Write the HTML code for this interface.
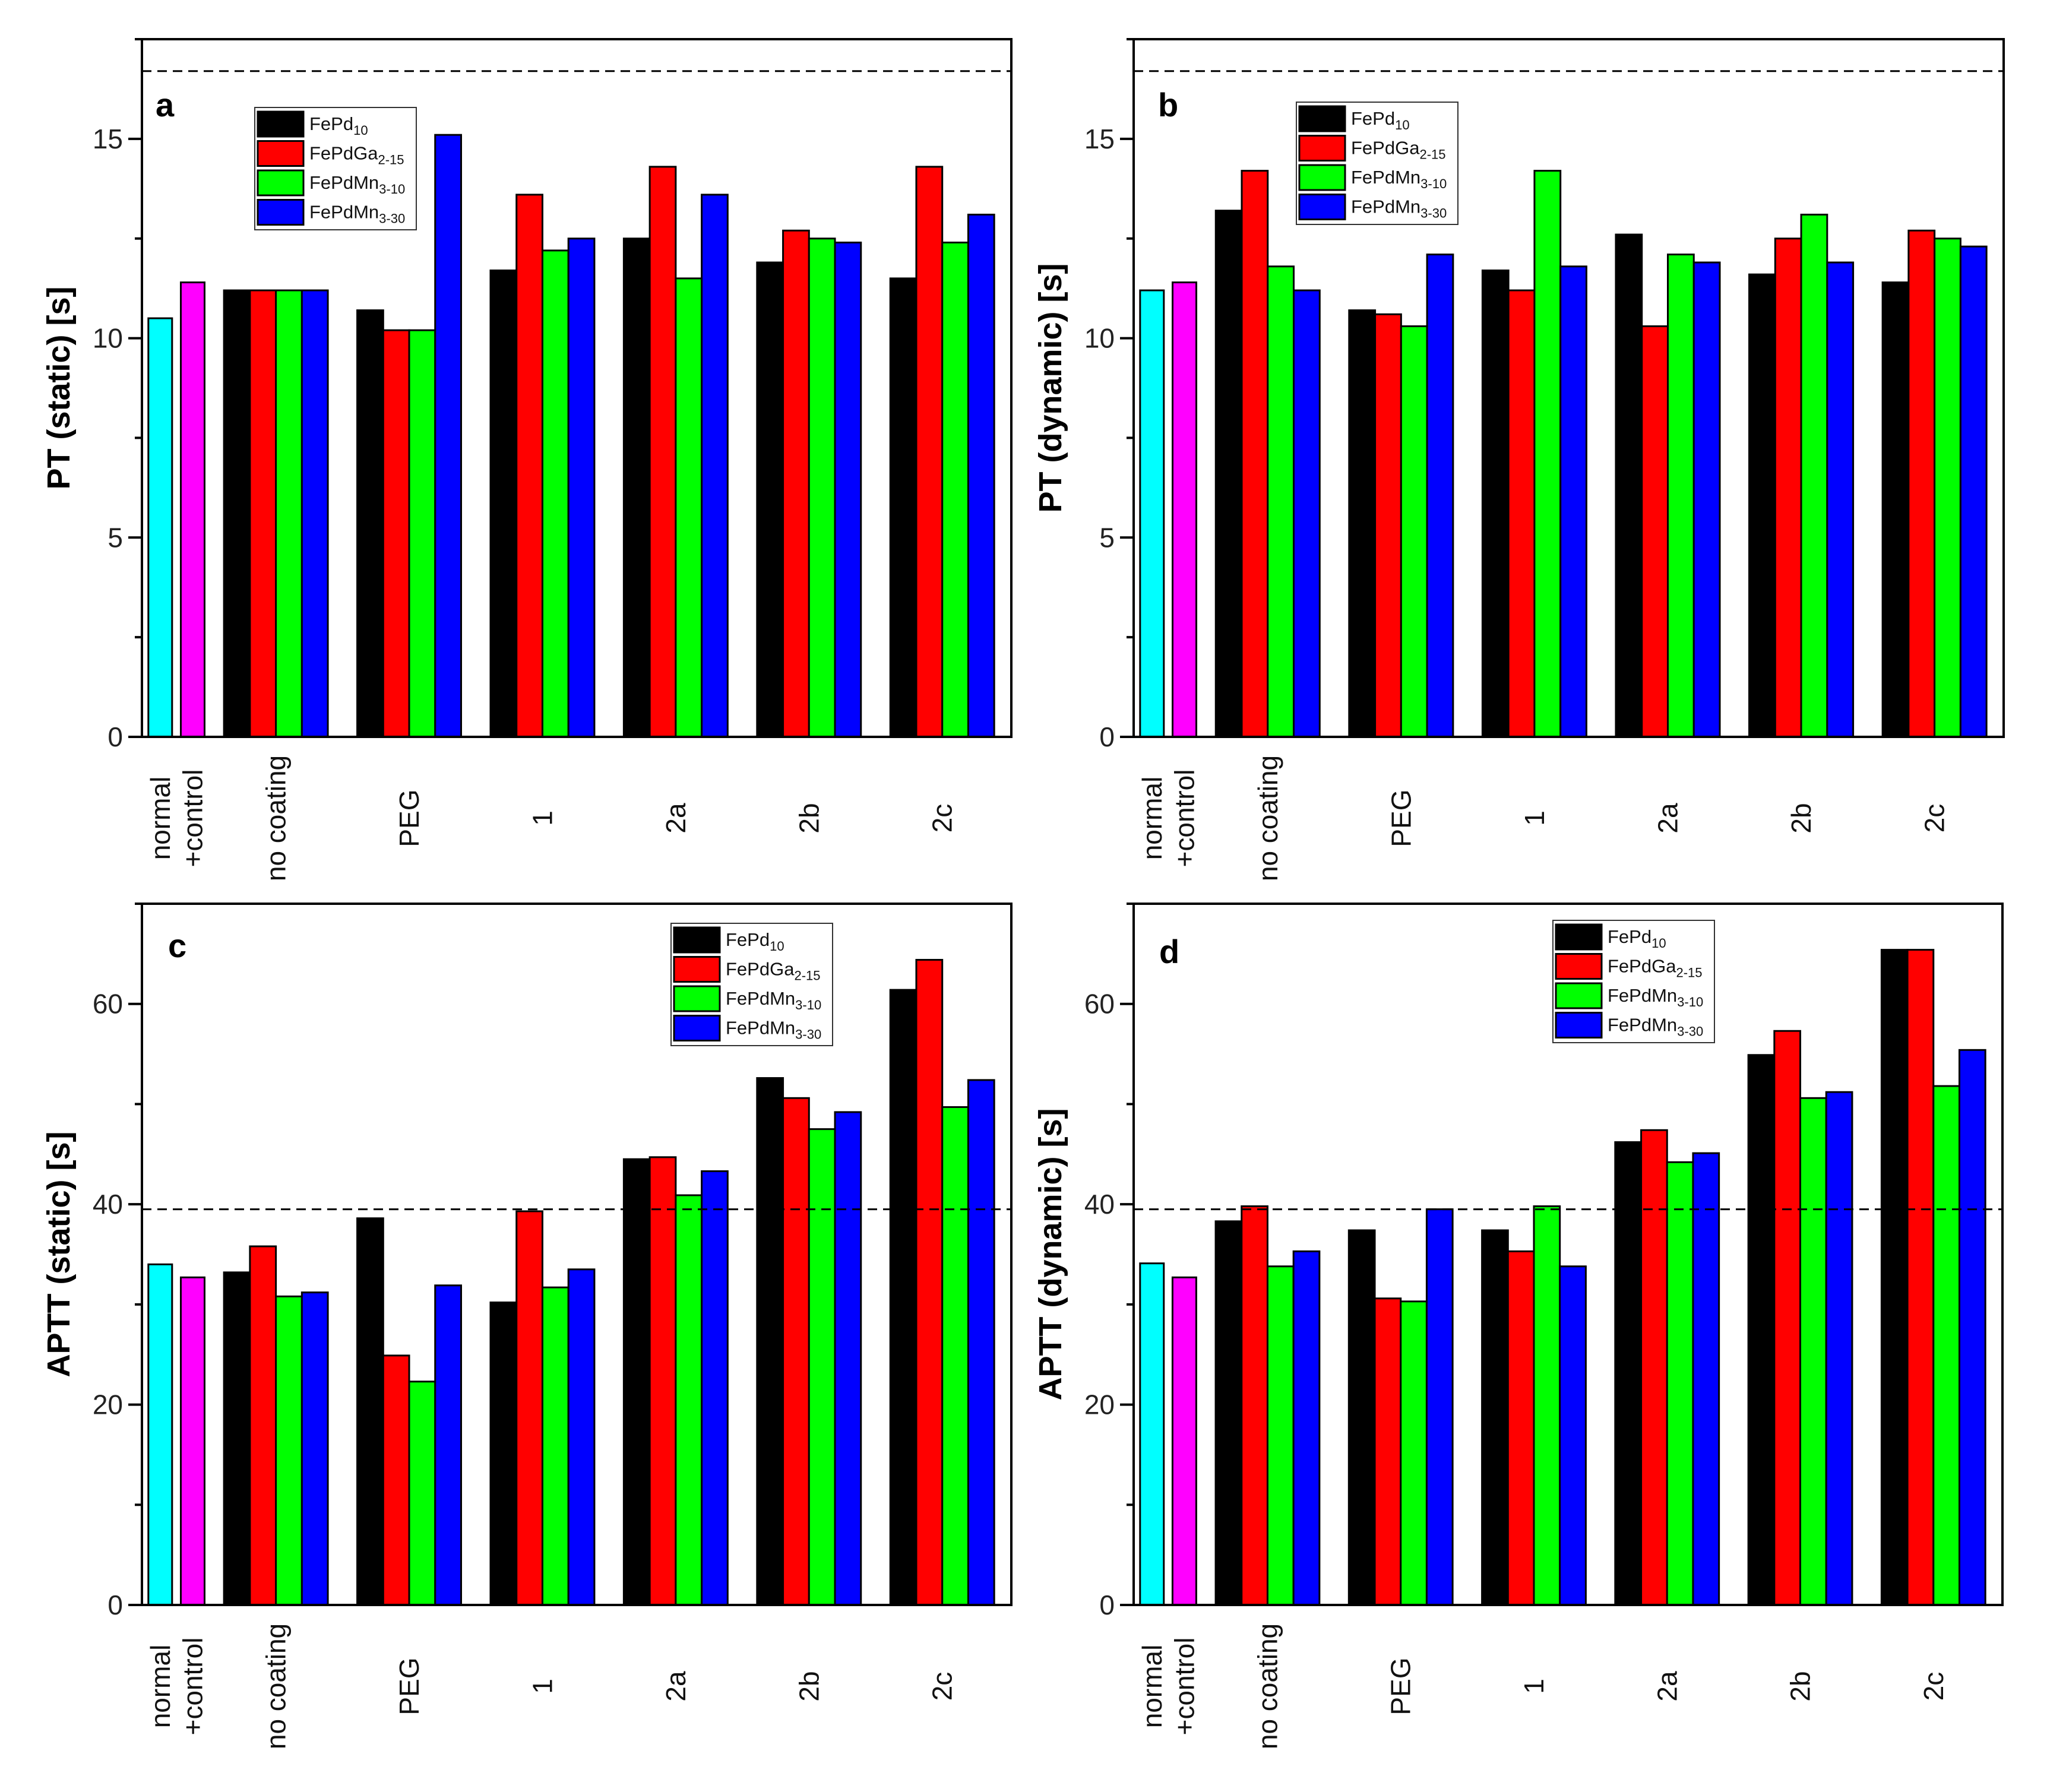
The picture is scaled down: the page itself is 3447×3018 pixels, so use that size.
<!DOCTYPE html>
<html><head><meta charset="utf-8"><style>
html,body{margin:0;padding:0;background:#fff}
svg{display:block}
text{font-family:"Liberation Sans",Arial,sans-serif}
</style></head><body>
<svg id="fig" xmlns="http://www.w3.org/2000/svg" width="3447" height="3018" viewBox="0 0 3447 3018"></svg>
<script>
const categories = ["no coating","PEG","1","2a","2b","2c"];
const controlLabels = ["normal","+control"];
const seriesNames = ["FePd","FePdGa","FePdMn","FePdMn"];
const seriesSubs = ["10","2-15","3-10","3-30"];
const seriesColors = ["#000000","#ff0000","#00ff00","#0000ff"];

const aControls = [10.5, 11.4];
const aFePd   = [11.2, 10.7, 11.7, 12.5, 11.9, 11.5];
const aFePdGa = [11.2, 10.2, 13.6, 14.3, 12.7, 14.3];
const aMn10   = [11.2, 10.2, 12.2, 11.5, 12.5, 12.4];
const aMn30   = [11.2, 15.1, 12.5, 13.6, 12.4, 13.1];

const bControls = [11.2, 11.4];
const bFePd   = [13.2, 10.7, 11.7, 12.6, 11.6, 11.4];
const bFePdGa = [14.2, 10.6, 11.2, 10.3, 12.5, 12.7];
const bMn10   = [11.8, 10.3, 14.2, 12.1, 13.1, 12.5];
const bMn30   = [11.2, 12.1, 11.8, 11.9, 11.9, 12.3];

const cControls = [34.0, 32.7];
const cFePd   = [33.2, 38.6, 30.2, 44.5, 52.6, 61.4];
const cFePdGa = [35.8, 24.9, 39.3, 44.7, 50.6, 64.4];
const cMn10   = [30.8, 22.3, 31.7, 40.9, 47.5, 49.7];
const cMn30   = [31.2, 31.9, 33.5, 43.3, 49.2, 52.4];

const dControls = [34.1, 32.7];
const dFePd   = [38.3, 37.4, 37.4, 46.2, 54.9, 65.4];
const dFePdGa = [39.8, 30.6, 35.3, 47.4, 57.3, 65.4];
const dMn10   = [33.8, 30.3, 39.8, 44.2, 50.6, 51.8];
const dMn30   = [35.3, 39.5, 33.8, 45.1, 51.2, 55.4];

const ticksPT = [0,5,10,15];
const ticksAPTT = [0,20,40,60];

const NS="http://www.w3.org/2000/svg";
const svg=document.getElementById('fig');
function mk(tag,attrs,parent){const e=document.createElementNS(NS,tag);for(const k in attrs)e.setAttribute(k,attrs[k]);(parent||svg).appendChild(e);return e;}

const panels=[
 {id:'a',L:239,R:1703,T:66,B:1241,ymax:17.5,ticks:ticksPT,minor:2.5,dash:16.7,title:'PT (static) [s]',ctrl:aControls,s:[aFePd,aFePdGa,aMn10,aMn30],leg:[429,181],lab:[262,196]},
 {id:'b',L:1909,R:3374,T:66,B:1241,ymax:17.5,ticks:ticksPT,minor:2.5,dash:16.7,title:'PT (dynamic) [s]',ctrl:bControls,s:[bFePd,bFePdGa,bMn10,bMn30],leg:[2183,172],lab:[1950,196]},
 {id:'c',L:239,R:1703,T:1522,B:2703,ymax:70,ticks:ticksAPTT,minor:10,dash:39.5,title:'APTT (static) [s]',ctrl:cControls,s:[cFePd,cFePdGa,cMn10,cMn30],leg:[1130,1555],lab:[283,1612]},
 {id:'d',L:1909,R:3372,T:1522,B:2703,ymax:70,ticks:ticksAPTT,minor:10,dash:39.5,title:'APTT (dynamic) [s]',ctrl:dControls,s:[dFePd,dFePdGa,dMn10,dMn30],leg:[2615,1550],lab:[1952,1622]}
];

panels.forEach(p=>{
  const g=mk('g',{});
  
  
  const y=v=>p.B-(v/p.ymax)*(p.B-p.T);
  const sx=(p.R-p.L)/1473;
  const gx=i=>p.L+(227+225.8*i)*sx;
  const bw=44*sx;
  const ctrlColors=['#00ffff','#ff00ff'];
  const ctrlX=[31,86];
  p.ctrl.forEach((v,i)=>{
    const r=mk('rect',{x:p.L+ctrlX[i]*sx-20,y:y(v),width:40,height:p.B-y(v),fill:ctrlColors[i],stroke:'#000','stroke-width':3},g);
    
    
  });
  categories.forEach((c,i)=>{
    p.s.forEach((arr,j)=>{
      const v=arr[i];
      const x=gx(i)+(j-2)*bw;
      const r=mk('rect',{x:x,y:y(v),width:bw,height:p.B-y(v),fill:seriesColors[j],stroke:'#000','stroke-width':3},g);
      
      
    });
  });
  const dl=mk('line',{x1:p.L,x2:p.R,y1:y(p.dash),y2:y(p.dash),stroke:'#000','stroke-width':3,'stroke-dasharray':'16,10'},g);
  
  
  const fr=mk('rect',{x:p.L,y:p.T,width:p.R-p.L,height:p.B-p.T,fill:'none',stroke:'#000','stroke-width':4},g);
  
  
  for(let v=0;v<=p.ymax+1e-9;v+=p.minor){
    const major=p.ticks.indexOf(Math.round(v*10)/10)>=0;
    mk('line',{x1:p.L-(major?23:12),x2:p.L,y1:y(v),y2:y(v),stroke:'#000','stroke-width':4},g);
  }
  p.ticks.forEach(t=>{
    const tx=mk('text',{x:p.L-32,y:y(t)+16,'text-anchor':'end','font-size':46,fill:'#222'},g);
    tx.textContent=t;
    
    
  });
  const cy=(p.T+p.B)/2;
  const yt=mk('text',{x:0,y:0,'text-anchor':'middle','font-size':54,'font-weight':'bold',transform:`translate(${p.L-122},${cy}) rotate(-90)`},g);
  yt.textContent=p.title;
  
  
  const labY=p.B+137;
  const xl=[[p.L+ctrlX[0]*sx,controlLabels[0]],[p.L+ctrlX[1]*sx,controlLabels[1]]];
  categories.forEach((c,i)=>xl.push([gx(i),c]));
  xl.forEach(([x,t])=>{
    const tx=mk('text',{x:0,y:0,'text-anchor':'middle','font-size':46,fill:'#111',transform:`translate(${x+16},${labY}) rotate(-90)`},g);
    tx.textContent=t;
    
    
  });
  const pl=mk('text',{x:p.lab[0],y:p.lab[1],'font-size':56,'font-weight':'bold'},g);
  pl.textContent=p.id;
  
  
  const lg=mk('g',{},g);
  
  
  const [lx,ly]=p.leg;
  mk('rect',{x:lx,y:ly,width:272,height:206,fill:'#fff',stroke:'#333','stroke-width':2},lg);
  seriesNames.forEach((n,j)=>{
    const e=mk('g',{},lg);
    
    
    const ry=ly+7+j*49.5;
    mk('rect',{x:lx+5,y:ry,width:77,height:42,fill:seriesColors[j],stroke:'#000','stroke-width':3},e);
    const t=mk('text',{x:lx+92,y:ry+31,'font-size':31,fill:'#111'},e);
    t.textContent=n;
    const sub=mk('tspan',{'font-size':22,dy:8},t);
    sub.textContent=seriesSubs[j];
  });
});
</script>
</body></html>
